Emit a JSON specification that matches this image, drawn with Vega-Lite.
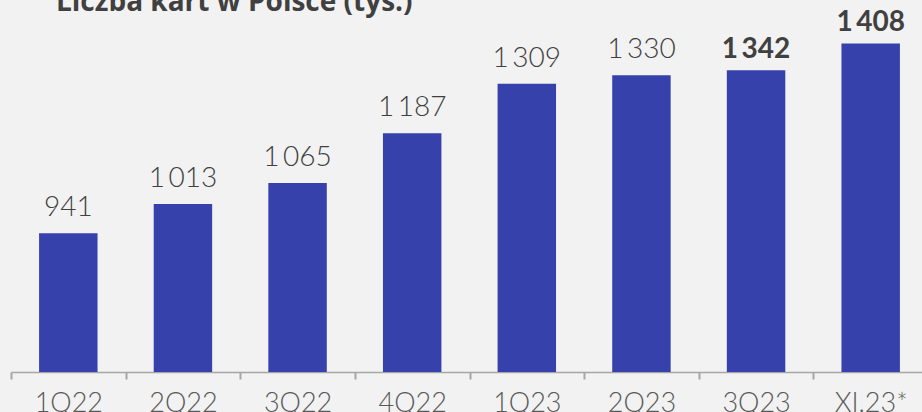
{
  "$schema": "https://vega.github.io/schema/vega-lite/v6.json",
  "width": 911,
  "height": 366,
  "autosize": {"type": "none"},
  "padding": {"left": 11, "top": 6, "right": 0, "bottom": 40},
  "background": "#f2f2f2",
  "title": {
    "text": "Liczba kart w Polsce (tys.)",
    "anchor": "start",
    "font": "Open Sans",
    "fontSize": 28,
    "fontWeight": "bold",
    "color": "#404040",
    "baseline": "alphabetic",
    "offset": 0,
    "dy": 33,
    "dx": 46
  },
  "config": {
    "view": {"stroke": null},
    "locale": {"number": {"decimal": ",", "thousands": "\u2009", "grouping": [3], "currency": ["", " zł"]}}
  },
  "data": {
    "values": [
      {"q": "1Q22", "v": 941, "b": false},
      {"q": "2Q22", "v": 1013, "b": false},
      {"q": "3Q22", "v": 1065, "b": false},
      {"q": "4Q22", "v": 1187, "b": false},
      {"q": "1Q23", "v": 1309, "b": false},
      {"q": "2Q23", "v": 1330, "b": false},
      {"q": "3Q23", "v": 1342, "b": true},
      {"q": "XI.23*", "v": 1408, "b": true}
    ]
  },
  "encoding": {
    "x": {
      "field": "q",
      "type": "nominal",
      "sort": null,
      "scale": {"paddingInner": 0, "paddingOuter": 0, "range": [0, 917]},
      "axis": {
        "title": null,
        "labelAngle": 0,
        "ticks": true,
        "tickBand": "extent",
        "domainColor": "#a6a6a6",
        "domainWidth": 1.5,
        "tickColor": "#a6a6a6",
        "tickOpacity": 1,
        "tickWidth": 2,
        "tickSize": 7,
        "labelFont": "Lato",
        "labelFontSize": 27,
        "labelFontWeight": 300,
        "labelColor": "#595959",
        "labelPadding": 11
      }
    }
  },
  "layer": [
    {
      "mark": {"type": "bar", "color": "#3641ab", "clip": true, "width": {"band": 0.51}},
      "encoding": {
        "y": {"field": "v", "type": "quantitative", "scale": {"domain": [600, 1500], "zero": false}, "axis": null}
      }
    },
    {
      "transform": [{"filter": "!datum.b"}],
      "mark": {"type": "text", "baseline": "alphabetic", "dy": -17, "font": "Lato", "fontSize": 28, "fontWeight": 300, "color": "#404040"},
      "encoding": {
        "y": {"field": "v", "type": "quantitative"},
        "text": {"field": "v", "type": "quantitative", "format": ",d"}
      }
    },
    {
      "transform": [{"filter": "datum.b"}],
      "mark": {"type": "text", "baseline": "alphabetic", "dy": -12, "font": "Lato", "fontSize": 28, "fontWeight": "bold", "color": "#404040"},
      "encoding": {
        "y": {"field": "v", "type": "quantitative"},
        "text": {"field": "v", "type": "quantitative", "format": ",d"}
      }
    }
  ]
}
